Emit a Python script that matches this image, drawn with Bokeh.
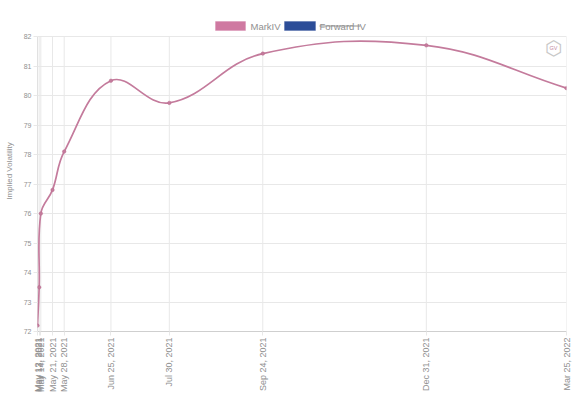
import numpy as np
import pandas as pd
from bokeh.plotting import figure
from bokeh.models import Range1d, FixedTicker, Label, BoxAnnotation, ColumnDataSource
from bokeh.embed import file_html
from bokeh.resources import INLINE

# ---- data ----
dates = ["2021-05-12", "2021-05-13", "2021-05-14", "2021-05-21", "2021-05-28",
         "2021-06-25", "2021-07-30", "2021-09-24", "2021-12-31", "2022-03-25"]
tick_labels = ["May 12, 2021", "May 13, 2021", "May 14, 2021", "May 21, 2021", "May 28, 2021",
               "Jun 25, 2021", "Jul 30, 2021", "Sep 24, 2021", "Dec 31, 2021", "Mar 25, 2022"]
mark_iv = [72.2, 73.5, 76.0, 76.8, 78.1, 80.5, 79.75, 81.42, 81.7, 80.25]
y_ticks = [72, 73, 74, 75, 76, 77, 78, 79, 80, 81, 82]
series_names = ["MarkIV", "Forward IV"]
series_colors = ["#cf79a1", "#2c4d98"]

dt = pd.to_datetime(dates)
days = [int((d - dt[0]).days) for d in dt]

# ---- layout constants ----
W, H = 580, 404
B_LEFT, B_RIGHT, B_TOP, B_BOTTOM = 37, 14, 10, 73
PX_PER_UNIT = 29.5                       # vertical px per vol point
y_min, y_max = y_ticks[0], y_ticks[-1]
y_top = y_max + (36 - B_TOP) / PX_PER_UNIT   # extra room above for the legend
fh = H - B_TOP - B_BOTTOM
fw = W - B_LEFT - B_RIGHT

p = figure(width=W, height=H, output_backend="svg", toolbar_location=None,
           x_range=Range1d(days[0], days[-1]), y_range=Range1d(y_min, y_top),
           min_border_left=B_LEFT, min_border_right=B_RIGHT,
           min_border_top=B_TOP, min_border_bottom=B_BOTTOM)
p.background_fill_color = "white"
p.border_fill_color = "white"
p.outline_line_color = None

grid_col = "#e8e8e8"
p.xaxis.ticker = FixedTicker(ticks=days)
p.xaxis.major_label_overrides = {d: lab for d, lab in zip(days, tick_labels)}
p.xaxis.major_label_orientation = np.pi / 2
p.yaxis.ticker = FixedTicker(ticks=y_ticks)
p.xgrid.visible = False
p.ygrid.ticker = FixedTicker(ticks=y_ticks)
p.ygrid.grid_line_color = grid_col

# vertical grid lines only over the data area
p.segment(x0=days, y0=[y_min] * len(days), x1=days, y1=[y_max] * len(days),
          line_color=grid_col, line_width=1)

for ax in (p.xaxis, p.yaxis):
    ax.major_tick_line_color = grid_col
    ax.major_tick_out = 4
    ax.major_tick_in = 0
    ax.minor_tick_line_color = None
    ax.major_label_text_font = "Liberation Sans"
    ax.major_label_text_color = "#909090"
    ax.major_label_standoff = 2
p.xaxis.axis_line_color = "#cfcfcf"
p.yaxis.axis_line_color = None
p.segment(x0=[days[0]], y0=[y_min], x1=[days[0]], y1=[y_max], line_color="#cfcfcf", line_width=1)

p.xaxis.major_label_text_font_size = "9px"
p.yaxis.major_label_text_font_size = "7px"
p.yaxis.axis_label = "Implied Volatility"
p.yaxis.axis_label_text_font = "Liberation Sans"
p.yaxis.axis_label_text_font_size = "8px"
p.yaxis.axis_label_text_font_style = "normal"
p.yaxis.axis_label_text_color = "#909090"
p.yaxis.axis_label_standoff = 7

# ---- smooth curve (Chart.js-style bezier, tension 0.4, computed in pixel space) ----
sx = fw / (days[-1] - days[0])
sy = PX_PER_UNIT
tension = 0.4
px = np.array(days, dtype=float) * sx
py = np.array(mark_iv, dtype=float) * sy
n = len(px)
cp_prev = np.zeros((n, 2))
cp_next = np.zeros((n, 2))
for i in range(n):
    prv = (px[max(i - 1, 0)], py[max(i - 1, 0)])
    cur = (px[i], py[i])
    nxt = (px[min(i + 1, n - 1)], py[min(i + 1, n - 1)])
    d01 = np.hypot(cur[0] - prv[0], cur[1] - prv[1])
    d12 = np.hypot(nxt[0] - cur[0], nxt[1] - cur[1])
    s = d01 + d12
    s01 = d01 / s if s else 0
    s12 = d12 / s if s else 0
    fa = tension * s01
    fb = tension * s12
    cp_prev[i] = (cur[0] - fa * (nxt[0] - prv[0]), cur[1] - fa * (nxt[1] - prv[1]))
    cp_next[i] = (cur[0] + fb * (nxt[0] - prv[0]), cur[1] + fb * (nxt[1] - prv[1]))

bez = ColumnDataSource(dict(
    x0=px[:-1] / sx, y0=py[:-1] / sy,
    x1=px[1:] / sx, y1=py[1:] / sy,
    cx0=cp_next[:-1, 0] / sx, cy0=cp_next[:-1, 1] / sy,
    cx1=cp_prev[1:, 0] / sx, cy1=cp_prev[1:, 1] / sy,
))
line_col = "#c47b9c"
p.bezier(x0="x0", y0="y0", x1="x1", y1="y1", cx0="cx0", cy0="cy0", cx1="cx1", cy1="cy1",
         source=bez, line_color=line_col, line_width=1.7)
p.scatter(days, mark_iv, size=3.5, fill_color=line_col, line_color="#b86a8c", line_width=0.5)

# ---- legend (screen units relative to the frame, y up from frame bottom) ----
leg_mid = fh - (25.5 - B_TOP)    # legend row centre
def box(l, r, color):
    p.add_layout(BoxAnnotation(left=l, right=r, bottom=leg_mid - 4.5, top=leg_mid + 4.5,
                               left_units="screen", right_units="screen",
                               bottom_units="screen", top_units="screen",
                               fill_color=color, fill_alpha=1, line_color=color))

box(178, 208, series_colors[0])
p.add_layout(Label(x=213, y=leg_mid, x_units="screen", y_units="screen", text=series_names[0],
                   text_font="Liberation Sans", text_font_size="9.5px", text_color="#909090",
                   text_baseline="middle"))
box(247, 278, series_colors[1])
p.add_layout(Label(x=282, y=leg_mid, x_units="screen", y_units="screen", text=series_names[1],
                   text_font="Liberation Sans", text_font_size="9.5px", text_color="#909090",
                   text_baseline="middle"))
p.add_layout(BoxAnnotation(left=282, right=323, bottom=leg_mid - 0.4, top=leg_mid + 0.4,
                           left_units="screen", right_units="screen",
                           bottom_units="screen", top_units="screen",
                           fill_color="#909090", fill_alpha=1, line_color=None))

# ---- logo ----
logo_x, logo_y = 553 - B_LEFT, fh - (47 - B_TOP)
p.add_layout(Label(x=logo_x, y=logo_y, x_units="screen", y_units="screen", text="\u2b21",
                   text_font="DejaVu Sans", text_font_size="20px", text_color="#c8c8c8",
                   text_align="center", text_baseline="middle"))
p.add_layout(Label(x=logo_x, y=logo_y, x_units="screen", y_units="screen", text="GV",
                   text_font="Liberation Sans", text_font_size="5.5px", text_color="#c48aa2",
                   text_align="center", text_baseline="middle"))

open("out.html", "w").write(file_html(p, INLINE))
